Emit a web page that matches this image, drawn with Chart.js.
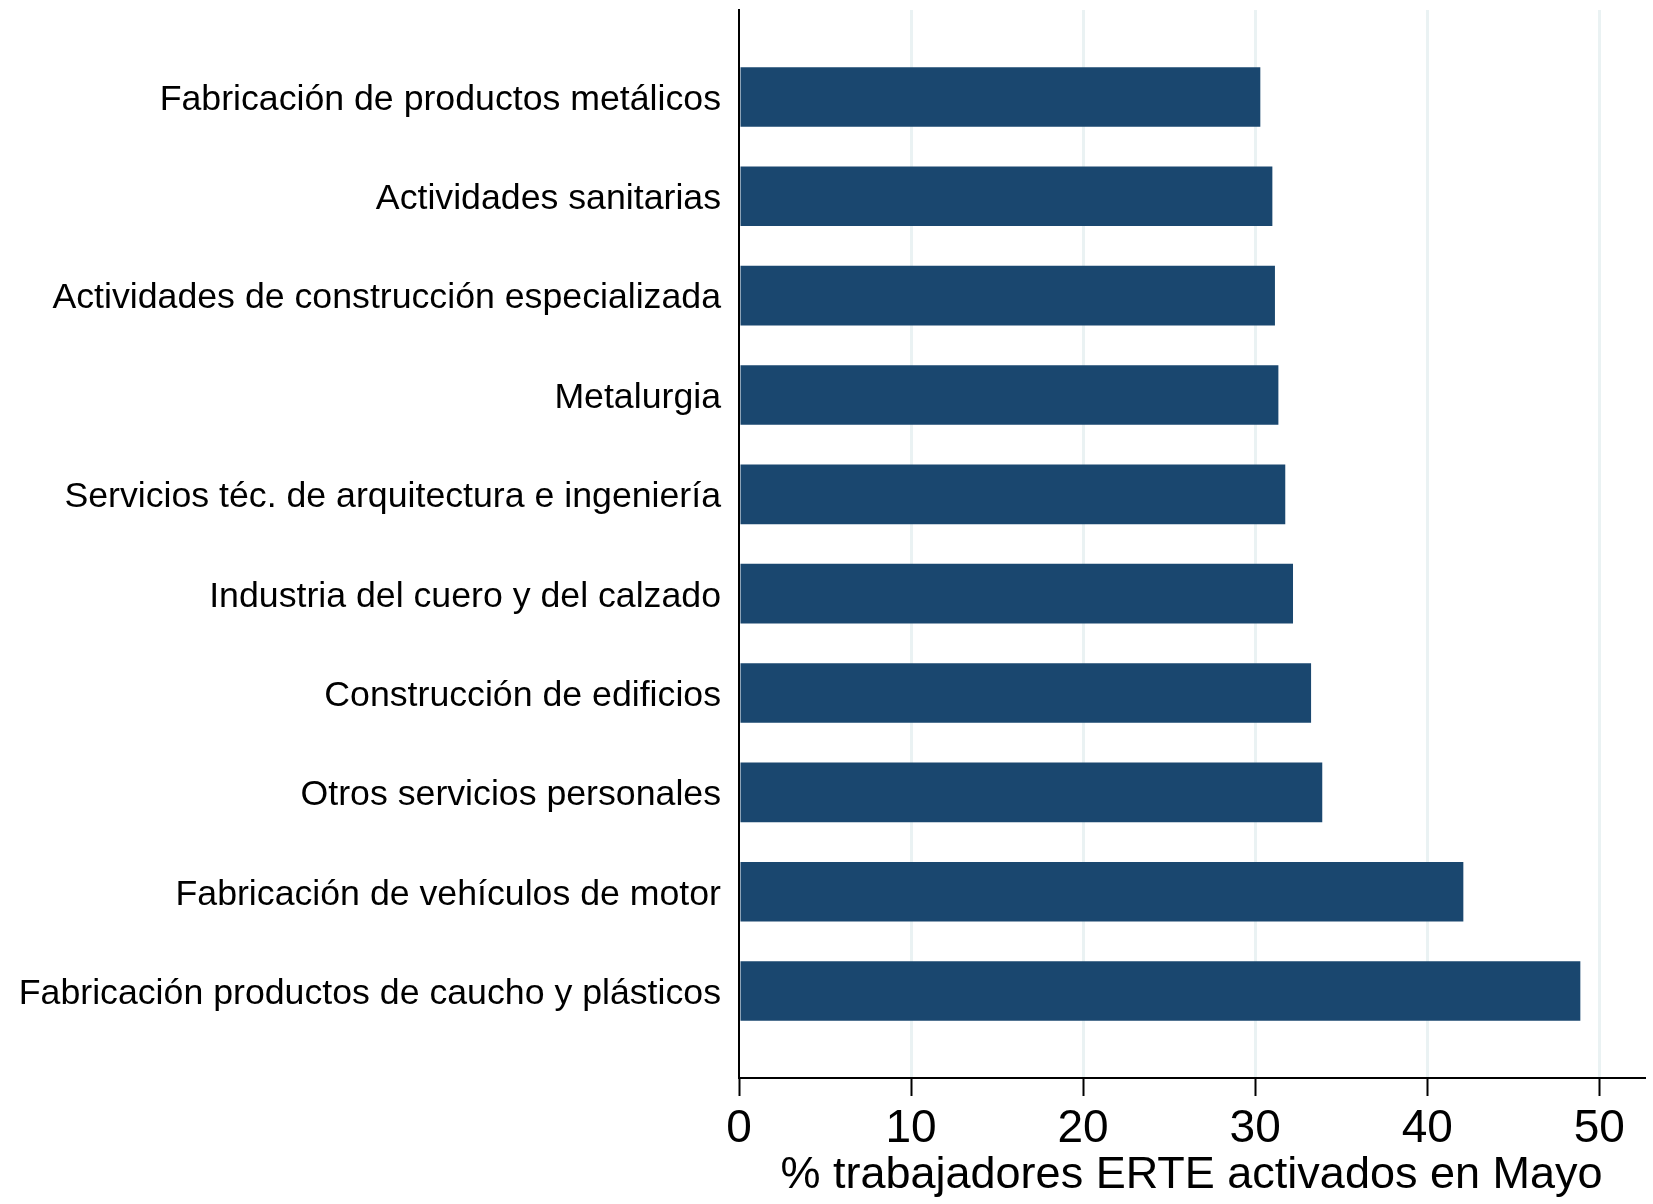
<!DOCTYPE html>
<html>
<head>
<meta charset="utf-8">
<script src="https://cdn.jsdelivr.net/npm/chart.js@4"></script>
<style>
    html, body { margin: 0; padding: 0; background: #fff; }
</style>
</head>
<body>
<canvas id="chart" width="1653" height="1204"></canvas>
<script>
// datos
const categories = [
    "Fabricación de productos metálicos",
    "Actividades sanitarias",
    "Actividades de construcción especializada",
    "Metalurgia",
    "Servicios téc. de arquitectura e ingeniería",
    "Industria del cuero y del calzado",
    "Construcción de edificios",
    "Otros servicios personales",
    "Fabricación de vehículos de motor",
    "Fabricación productos de caucho y plásticos"
];
const values = [30.3, 31.0, 31.15, 31.35, 31.75, 32.2, 33.25, 33.9, 42.1, 48.9];
const xTicks = [0, 10, 20, 30, 40, 50];
const xTitle = "% trabajadores ERTE activados en Mayo";

const FONT = "'Liberation Sans', Arial, Helvetica, sans-serif";

const ctx = document.getElementById("chart");

new Chart(ctx, {
    type: "bar",
    data: {
        datasets: [
            {
                data: values.map((v, i) => ({ x: v, y: i })),
                backgroundColor: "#1a476f",
                borderWidth: 0,
                categoryPercentage: 1,
                barPercentage: 0.6,
            },
        ],
    },
    options: {
        indexAxis: "y",
        responsive: false,
        animation: false,
        devicePixelRatio: 1,
        layout: {
            padding: { top: 10, right: 9, bottom: 0, left: 0 },
        },
        plugins: {
            legend: { display: false },
            tooltip: { enabled: false },
        },
        scales: {
            y: {
                type: "linear",
                offset: false,
                reverse: true,
                min: -0.875,
                max: categories.length - 1 + 0.875,
                afterBuildTicks: (s) => {
                    s.ticks = categories.map((c, i) => ({ value: i }));
                },
                afterFit: (s) => {
                    s.width = 739;
                    // sin margen extra arriba/abajo por las etiquetas
                    s.paddingTop = 0;
                    s.paddingBottom = 0;
                },
                grid: { display: false, drawTicks: false },
                border: { display: true, color: "#000", width: 2 },
                ticks: {
                    autoSkip: false,
                    padding: 18,
                    labelOffset: 3,
                    color: "#000",
                    font: { family: FONT, size: 35.7 },
                    callback: (v) => categories[v],
                },
            },
            x: {
                type: "linear",
                min: 0,
                max: 52.6,
                afterBuildTicks: (s) => {
                    s.ticks = xTicks.map((v) => ({ value: v }));
                },
                afterFit: (s) => {
                    s.height = 126;
                },
                grid: {
                    color: (c) => (c.tick && c.tick.value === 0 ? "rgba(0,0,0,0)" : "#eaf2f3"),
                    lineWidth: 3,
                    tickColor: "#000",
                    tickWidth: 2,
                    tickLength: 18,
                },
                border: { display: true, color: "#000", width: 2 },
                ticks: {
                    autoSkip: false,
                    maxRotation: 0,
                    padding: 10,
                    color: "#000",
                    font: { family: FONT, size: 46, lineHeight: 1 },
                },
                title: {
                    display: true,
                    text: xTitle,
                    color: "#000",
                    font: { family: FONT, size: 45, lineHeight: 1 },
                    padding: { top: 7, bottom: 6 },
                },
            },
        },
    },
});
</script>
</body>
</html>
